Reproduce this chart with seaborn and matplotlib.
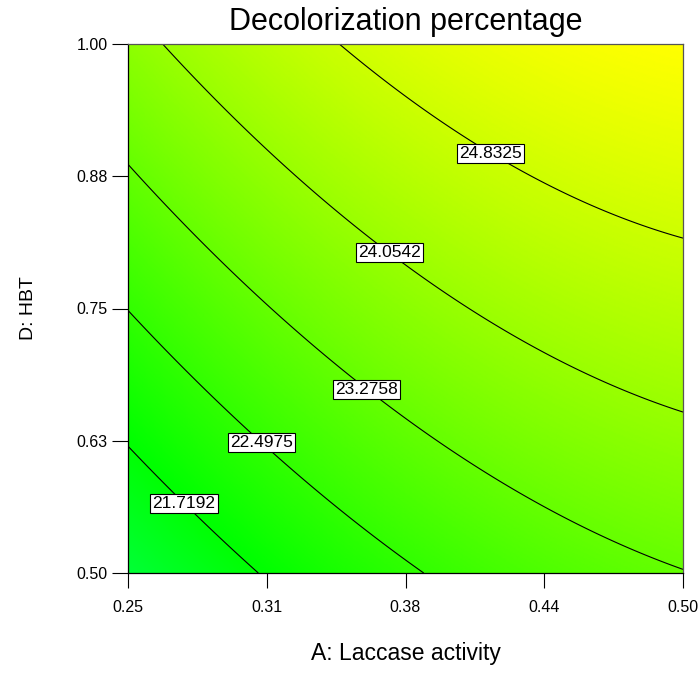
import numpy as np
import matplotlib
matplotlib.use("Agg")
import matplotlib.pyplot as plt
import seaborn as sns
from matplotlib.colors import LinearSegmentedColormap, Normalize

# ---------------- data ----------------
title = "Decolorization percentage"
x_label = "A: Laccase activity"
y_label = "D: HBT"
A_range = [0.25, 0.50]
D_range = [0.50, 1.00]
x_ticks = [0.25, 0.3125, 0.375, 0.4375, 0.50]
x_tick_labels = ["0.25", "0.31", "0.38", "0.44", "0.50"]
y_ticks = [0.50, 0.625, 0.75, 0.875, 1.00]
y_tick_labels = ["0.50", "0.63", "0.75", "0.88", "1.00"]
contour_levels = [21.7192, 22.4975, 23.2758, 24.0542, 24.8325]
# quadratic response-surface model, coded units: 1, A, D, AD, A^2, D^2
coef_terms = ["1", "A", "D", "AD", "A2", "D2"]
coef_values = [23.84, 1.01, 1.317, -0.146, -0.322, -0.10]

# label anchor points (layout)
label_spots = [(0.279, 0.574), (0.314, 0.632), (0.361, 0.683),
               (0.371, 0.812), (0.416, 0.906)]

# ---------------- style ----------------
sns.set_theme(style="white")
plt.rcParams["font.family"] = ["Liberation Sans", "DejaVu Sans"]
plt.rcParams["text.color"] = "black"
plt.rcParams["axes.labelcolor"] = "black"

fig = plt.figure(figsize=(6.98, 6.90), dpi=100)
ax = fig.add_axes([128 / 698, (690 - 573) / 690, (683 - 128) / 698, (573 - 44) / 690])

A = np.linspace(A_range[0], A_range[1], 400)
D = np.linspace(D_range[0], D_range[1], 400)
AA, DD = np.meshgrid(A, D)
a = (AA - np.mean(A_range)) / ((A_range[1] - A_range[0]) / 2)
d = (DD - np.mean(D_range)) / ((D_range[1] - D_range[0]) / 2)
c = dict(zip(coef_terms, coef_values))
Z = c["1"] + c["A"] * a + c["D"] * d + c["AD"] * a * d + c["A2"] * a ** 2 + c["D2"] * d ** 2

cmap = LinearSegmentedColormap.from_list("de", ["#00FFFF", "#00FF00", "#FFFF00"])
norm = Normalize(vmin=17.92, vmax=25.60)
ax.imshow(Z, origin="lower", extent=[A_range[0], A_range[1], D_range[0], D_range[1]],
          cmap=cmap, norm=norm, aspect="auto", interpolation="bilinear")

cs = ax.contour(AA, DD, Z, levels=contour_levels, colors="black", linewidths=0.8)
labels = ax.clabel(cs, fmt=lambda v: f"{v:.4f}", fontsize=12.5, inline=False,
                   manual=label_spots, colors="black")
for t in labels:
    t.set_rotation(0)
    t.set_bbox(dict(facecolor="white", edgecolor="black", linewidth=0.8, pad=1.5))

ax.set_xlim(A_range)
ax.set_ylim(D_range)
ax.set_xticks(x_ticks)
ax.set_xticklabels(x_tick_labels)
ax.set_yticks(y_ticks)
ax.set_yticklabels(y_tick_labels)
ax.tick_params(axis="both", which="both", direction="out", width=0.8,
               colors="black", labelsize=11.5, bottom=True, left=True)
ax.tick_params(axis="x", length=10.5, pad=9)
ax.tick_params(axis="y", length=11.5, pad=3)
for lab in ax.get_xticklabels() + ax.get_yticklabels():
    lab.set_fontfamily(["Liberation Sans Narrow", "Liberation Sans"])

for s in ["left", "bottom"]:
    ax.spines[s].set_color("black")
    ax.spines[s].set_linewidth(0.9)
for s in ["top", "right"]:
    ax.spines[s].set_color("#555555")
    ax.spines[s].set_linewidth(0.9)

ax.text(0.5, 1.042, title, transform=ax.transAxes, ha="center", va="center",
        fontsize=22, color="black")
ax.set_xlabel(x_label, fontsize=16.5)
ax.set_ylabel(y_label, fontsize=14)
ax.xaxis.set_label_coords(0.5, -0.130)
ax.yaxis.set_label_coords(-0.164, 0.5)

fig.savefig("out.png", dpi=100)
